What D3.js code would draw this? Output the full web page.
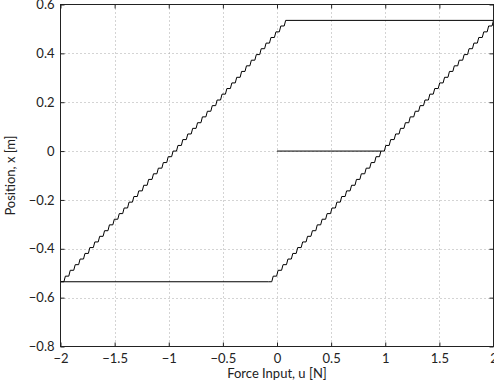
<!DOCTYPE html>
<html><head><meta charset="utf-8">
<script src="https://cdn.jsdelivr.net/npm/d3@7"></script>
<style>
html,body{margin:0;padding:0;background:#fff;}
text{font-family:Lato,"Open Sans",sans-serif;fill:#222;}
</style></head>
<body>
<svg id="chart" width="494" height="389"></svg>
<script>
// ---- data ----
const xTicks = [-2, -1.5, -1, -0.5, 0, 0.5, 1, 1.5, 2];
const xTickLabels = ["\u22122", "\u22121.5", "\u22121", "\u22120.5", "0", "0.5", "1", "1.5", "2"];
const yTicks = [-0.8, -0.6, -0.4, -0.2, 0, 0.2, 0.4, 0.6];
const yTickLabels = ["\u22120.8", "\u22120.6", "\u22120.4", "\u22120.2", "0", "0.2", "0.4", "0.6"];

// position levels of the staircase (shared by both branches)
const positionLevels = [-0.535,-0.512,-0.488,-0.465,-0.442,-0.419,-0.395,-0.372,-0.349,-0.326,
  -0.302,-0.279,-0.256,-0.233,-0.209,-0.186,-0.163,-0.140,-0.116,-0.093,
  -0.070,-0.047,-0.023,0.000,0.023,0.047,0.070,0.093,0.116,0.140,
  0.163,0.186,0.209,0.233,0.256,0.279,0.302,0.326,0.349,0.372,
  0.395,0.419,0.442,0.465,0.488,0.512,0.535];
// force input at each step, rising (right) branch
const rightBranchU = [-0.080,-0.035,0.010,0.056,0.101,0.146,0.191,0.237,0.282,0.327,
  0.372,0.417,0.463,0.508,0.553,0.598,0.643,0.689,0.734,0.779,
  0.824,0.870,0.915,0.960,1.005,1.050,1.096,1.141,1.186,1.231,
  1.277,1.322,1.367,1.412,1.457,1.503,1.548,1.593,1.638,1.683,
  1.729,1.774,1.819,1.864,1.910,1.955,2.000];
// force input at each step, falling (left) branch
const leftBranchU = [-2.000,-1.955,-1.910,-1.864,-1.819,-1.774,-1.729,-1.683,-1.638,-1.593,
  -1.548,-1.503,-1.457,-1.412,-1.367,-1.322,-1.277,-1.231,-1.186,-1.141,
  -1.096,-1.050,-1.005,-0.960,-0.915,-0.870,-0.824,-0.779,-0.734,-0.689,
  -0.643,-0.598,-0.553,-0.508,-0.463,-0.417,-0.372,-0.327,-0.282,-0.237,
  -0.191,-0.146,-0.101,-0.056,-0.010,0.035,0.080];
// flat segments
const initU = [0, 0.960], initX = [0, 0];
const topU = [0.080, 2.000], topX = [0.535, 0.535];
const bottomU = [-2.000, -0.080], bottomX = [-0.535, -0.535];

// ---- layout ----
const L = 60.5, R = 493.5, T = 4.5, B = 346.5;
const svg = d3.select("#chart");
const x = d3.scaleLinear().domain([-2, 2]).range([L, R]);
const y = d3.scaleLinear().domain([-0.8, 0.6]).range([B, T]);

// grid
const grid = svg.append("g").attr("stroke", "#a8a8a8").attr("stroke-width", 1)
  .attr("stroke-dasharray", "1,3");
xTicks.slice(1, -1).forEach(v => {
  grid.append("line").attr("x1", Math.round(x(v)) + 0.5).attr("x2", Math.round(x(v)) + 0.5)
    .attr("y1", T).attr("y2", B);
});
yTicks.slice(1, -1).forEach(v => {
  grid.append("line").attr("y1", Math.round(y(v)) + 0.5).attr("y2", Math.round(y(v)) + 0.5)
    .attr("x1", L).attr("x2", R);
});

// axes (bottom with labels, plus inward ticks on all sides)
const tk = 4;
const xAxisB = d3.axisBottom(x).tickValues(xTicks).tickSize(-tk).tickPadding(7)
  .tickFormat((d, i) => xTickLabels[i]);
const xAxisT = d3.axisTop(x).tickValues(xTicks).tickSize(-tk).tickFormat("");
const yAxisL = d3.axisLeft(y).tickValues(yTicks).tickSize(-tk).tickPadding(6)
  .tickFormat((d, i) => yTickLabels[i]);
const yAxisR = d3.axisRight(y).tickValues(yTicks).tickSize(-tk).tickFormat("");

function style(g) {
  g.select(".domain").remove();
  g.selectAll(".tick line").attr("stroke", "#222");
  g.selectAll(".tick text").style("font-family", "Lato, 'Open Sans', sans-serif")
    .style("font-size", "13px").attr("fill", "#222");
}
svg.append("g").attr("transform", `translate(0,${B})`).call(xAxisB).call(style);
svg.append("g").attr("transform", `translate(0,${T})`).call(xAxisT).call(style);
svg.append("g").attr("transform", `translate(${L},0)`).call(yAxisL).call(style);
svg.append("g").attr("transform", `translate(${R},0)`).call(yAxisR).call(style);

// curves
const line = d3.line().x(d => x(d[0])).y(d => y(d[1]));
const zip = (a, b) => a.map((v, i) => [v, b[i]]);
// staircase: flat tread at each level, then a steep rise to the next level
function stairPoints(us, xs) {
  const pts = [];
  for (let i = 0; i < us.length; i++) {
    pts.push([us[i], xs[i]]);
    if (i < us.length - 1) pts.push([us[i] + 0.7 * (us[i + 1] - us[i]), xs[i]]);
  }
  return pts;
}
const curves = svg.append("g").attr("fill", "none").attr("stroke", "#000").attr("stroke-width", 1);
curves.append("path").attr("d", line(zip(initU, initX)));
curves.append("path").attr("d", line(zip(topU, topX)));
curves.append("path").attr("d", line(zip(bottomU, bottomX)));
curves.append("path").attr("d", line(stairPoints(rightBranchU, positionLevels)));
curves.append("path").attr("d", line(stairPoints(leftBranchU, positionLevels)));

// box
svg.append("rect").attr("x", L).attr("y", T).attr("width", R - L).attr("height", B - T)
  .attr("fill", "none").attr("stroke", "#222").attr("stroke-width", 1);

// axis titles
svg.append("text").attr("x", (L + R) / 2).attr("y", 378).attr("text-anchor", "middle")
  .style("font-size", "13px").text("Force Input, u [N]");
svg.append("text").attr("transform", `translate(15,${(T + B) / 2}) rotate(-90)`)
  .attr("text-anchor", "middle").style("font-size", "13px").text("Position, x [m]");
</script>
</body></html>
